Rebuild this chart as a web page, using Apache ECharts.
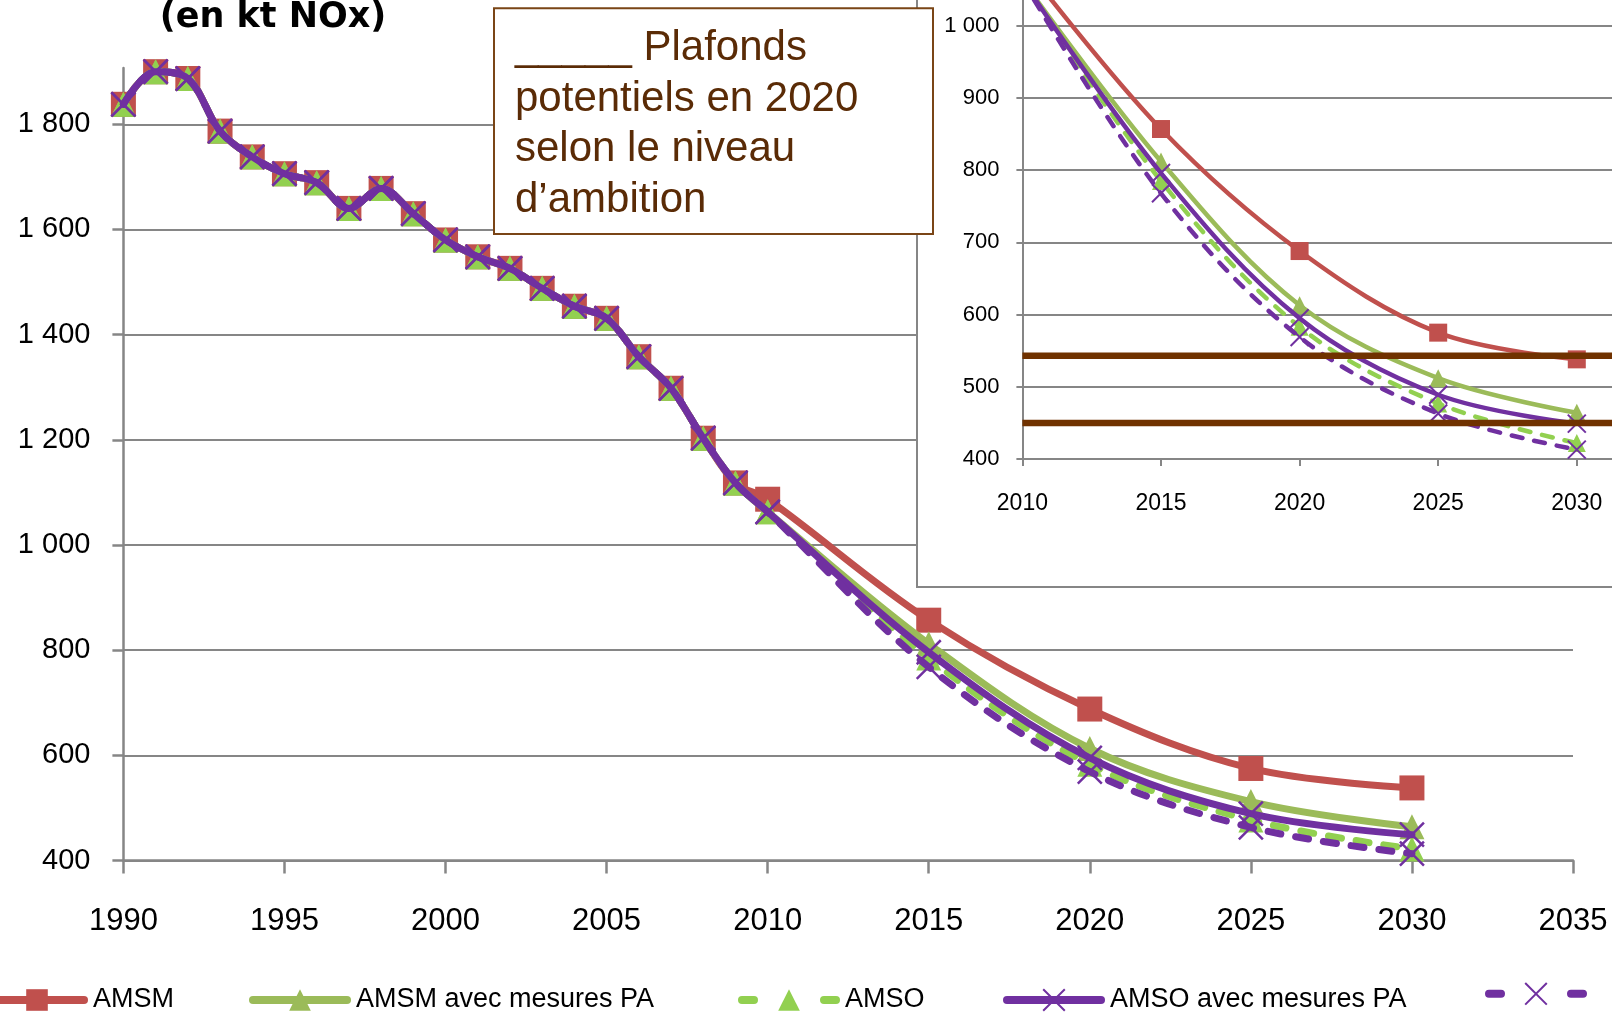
<!DOCTYPE html>
<html><head><meta charset="utf-8">
<script src="https://cdn.jsdelivr.net/npm/echarts@6/dist/echarts.min.js"></script>
<style>html,body{margin:0;padding:0;background:#fff}#c{width:1612px;height:1013px}</style>
</head><body><div id="c"></div>
<script>
// ---- data ----
const histYears = [1990,1991,1992,1993,1994,1995,1996,1997,1998,1999,2000,2001,2002,2003,2004,2005,2006,2007,2008,2009];
const histValues = [1838,1900,1887,1787,1738,1706,1689,1640,1678,1630,1580,1548,1526,1488,1454,1431,1358,1298,1203,1118];
const projYears = [2010,2015,2020,2025,2030];
const amsm       = [1087,857,688,575,538];
const amsmPA     = [1063,812,613,512,464];
const amso       = [1063,785,583,477,422];
const amsoPA     = [1063,796,595,489,449];
const amsoPADash = [1063,768,569,463,413];
const plafonds   = [543,450];
const mainYTicks = [400,600,800,1000,1200,1400,1600,1800];
const insetYTicks = [400,500,600,700,800,900,1000];
const insetXTicks = [2010,2015,2020,2025,2030];
const seriesNames = ['AMSM','AMSM avec mesures PA','AMSO','AMSO avec mesures PA','AMSO avec mesures PA (tirets)'];

const FONT = 'Liberation Sans';
const GRAY = '#868686';
const XSYM = 'path://M0,0L10,10M10,0L0,10';
const fmtK = v => v >= 1000 ? Math.floor(v/1000) + ' ' + String(v % 1000).padStart(3,'0') : String(v);

// inset visible extent (axis cut by the picture's edges)
const INSET_XMIN = 2010, INSET_XMAX = 2031.27;
const INSET_YMIN = 400, INSET_YMAX = 1035.7;

const styles = [
  {color:'#c0504d', symbol:'rect', dash:false},
  {color:'#9bbb59', symbol:'triangle', dash:false},
  {color:'#92d050', symbol:'triangle', dash:true},
  {color:'#7030a0', symbol:XSYM, dash:false, x:true},
  {color:'#7030a0', symbol:XSYM, dash:true, x:true}
];
const projSets = [amsm, amsmPA, amso, amsoPA, amsoPADash];

function mainData(proj){
  const d = histYears.map((y,i)=>[y, histValues[i]]);
  projYears.forEach((y,i)=>d.push([y, proj[i]]));
  return d;
}
function insetData(proj){ return projYears.map((y,i)=>[y, proj[i]]); }

const series = [];
styles.forEach((s,i)=>{
  series.push({
    name: seriesNames[i], type:'line', xAxisIndex:0, yAxisIndex:0, z: 2+i,
    data: mainData(projSets[i]), smooth:0.35,
    symbol: s.symbol, symbolSize: s.x ? 24 : 25,
    lineStyle:{color:s.color, width:7, type: s.dash ? [13,15] : 'solid', cap:'round'},
    itemStyle:{color: s.x ? 'rgba(0,0,0,0)' : s.color, borderColor: s.color, borderWidth: s.x ? 2.5 : 0},
    emphasis:{disabled:true}, animation:false
  });
});
styles.forEach((s,i)=>{
  series.push({
    name: seriesNames[i], type:'line', xAxisIndex:1, yAxisIndex:1, z: 12+i,
    data: insetData(projSets[i]), smooth:0.35,
    symbol: s.symbol, symbolSize: 18,
    lineStyle:{color:s.color, width:4.5, type: s.dash ? [11,12] : 'solid', cap:'round'},
    itemStyle:{color: s.x ? 'rgba(0,0,0,0)' : s.color, borderColor: s.color, borderWidth: s.x ? 2 : 0},
    emphasis:{disabled:true}, animation:false
  });
});
// plafond lines across the inset
plafonds.forEach((p)=>{
  series.push({
    name:'plafond ' + p, type:'line', xAxisIndex:1, yAxisIndex:1, z:18,
    data:[[INSET_XMIN, p],[INSET_XMAX, p]], symbol:'none',
    lineStyle:{color:'#703200', width:6.5},
    emphasis:{disabled:true}, animation:false, silent:true
  });
});

const legendLefts = [-14, 249, 738, 1003, 1485];
const legends = seriesNames.map((n,i)=>({
  data:[n], left: legendLefts[i], top: 982, padding:0, selectedMode:false,
  itemWidth: 94, itemHeight: 27,
  lineStyle: styles[i].dash ? {width:8, cap:'round', type:[12,70,12]} : {width:8, cap:'round'},
  formatter: i === 4 ? () => '' : undefined,
  textStyle:{fontFamily:FONT, fontSize:27, color:'#000', lineHeight:36, padding:[0,0,0,4]}
}));

const option = {
  backgroundColor:'#fff',
  animation:false,
  legend: legends,
  grid:[
    {left:123.4, right:39, top:68, bottom:152.5},
    {left:1022.4, right:0, top:0, bottom:554}
  ],
  xAxis:[
    {type:'value', gridIndex:0, min:1990, max:2035, interval:5,
     axisLine:{lineStyle:{color:GRAY, width:2.5}},
     axisTick:{length:13, lineStyle:{color:GRAY, width:2.5}},
     axisLabel:{color:'#000', fontFamily:FONT, fontSize:31, margin:45, formatter:v=>String(v)},
     splitLine:{show:false}},
    {type:'value', gridIndex:1, min:INSET_XMIN, max:INSET_XMAX, interval:5, z:11,
     axisLine:{lineStyle:{color:GRAY, width:2}},
     axisTick:{length:7, customValues:insetXTicks, lineStyle:{color:GRAY, width:2}},
     axisLabel:{color:'#000', fontFamily:FONT, fontSize:23, margin:33, customValues:insetXTicks, formatter:v=>String(v)},
     splitLine:{show:false}}
  ],
  yAxis:[
    {type:'value', gridIndex:0, min:400, max:1907, interval:200,
     axisLine:{show:true, lineStyle:{color:GRAY, width:2.5}},
     axisTick:{show:true, length:11, customValues:mainYTicks, lineStyle:{color:GRAY, width:2.5}},
     axisLabel:{color:'#000', fontFamily:FONT, fontSize:29, margin:33, customValues:mainYTicks, formatter:fmtK},
     splitLine:{show:true, lineStyle:{color:GRAY, width:2}}},
    {type:'value', gridIndex:1, min:INSET_YMIN, max:INSET_YMAX, interval:100, z:11,
     axisLine:{show:true, lineStyle:{color:GRAY, width:2}},
     axisTick:{show:true, length:6, customValues:insetYTicks, lineStyle:{color:GRAY, width:2}},
     axisLabel:{color:'#000', fontFamily:FONT, fontSize:22, margin:23, customValues:insetYTicks, formatter:fmtK},
     splitLine:{show:true, lineStyle:{color:GRAY, width:2}}}
  ],
  graphic:[
    {type:'rect', z:10, shape:{x:917, y:-10, width:720, height:597},
     style:{fill:'#fff', stroke:GRAY, lineWidth:2}},
    {type:'rect', z:20, shape:{x:494, y:8.3, width:439, height:225.7},
     style:{fill:'#fff', stroke:'#7a4516', lineWidth:2}},
    {type:'text', z:21, x:515, y:23,
     style:{text:'_____ Plafonds\npotentiels en 2020\nselon le niveau\nd\u2019ambition',
            font:'42px "Liberation Sans"', lineHeight:50.7, fill:'#5a2b06', verticalAlign:'top', align:'left'}},
    {type:'text', z:21, x:273, y:17.5,
     style:{text:'(en kt NOx)', font:'bold 35px "DejaVu Sans"', fill:'#000', align:'center', verticalAlign:'middle'}}
  ],
  series: series
};
const chart = echarts.init(document.getElementById('c'), null, {renderer:'canvas'});
chart.setOption(option);
</script></body></html>
